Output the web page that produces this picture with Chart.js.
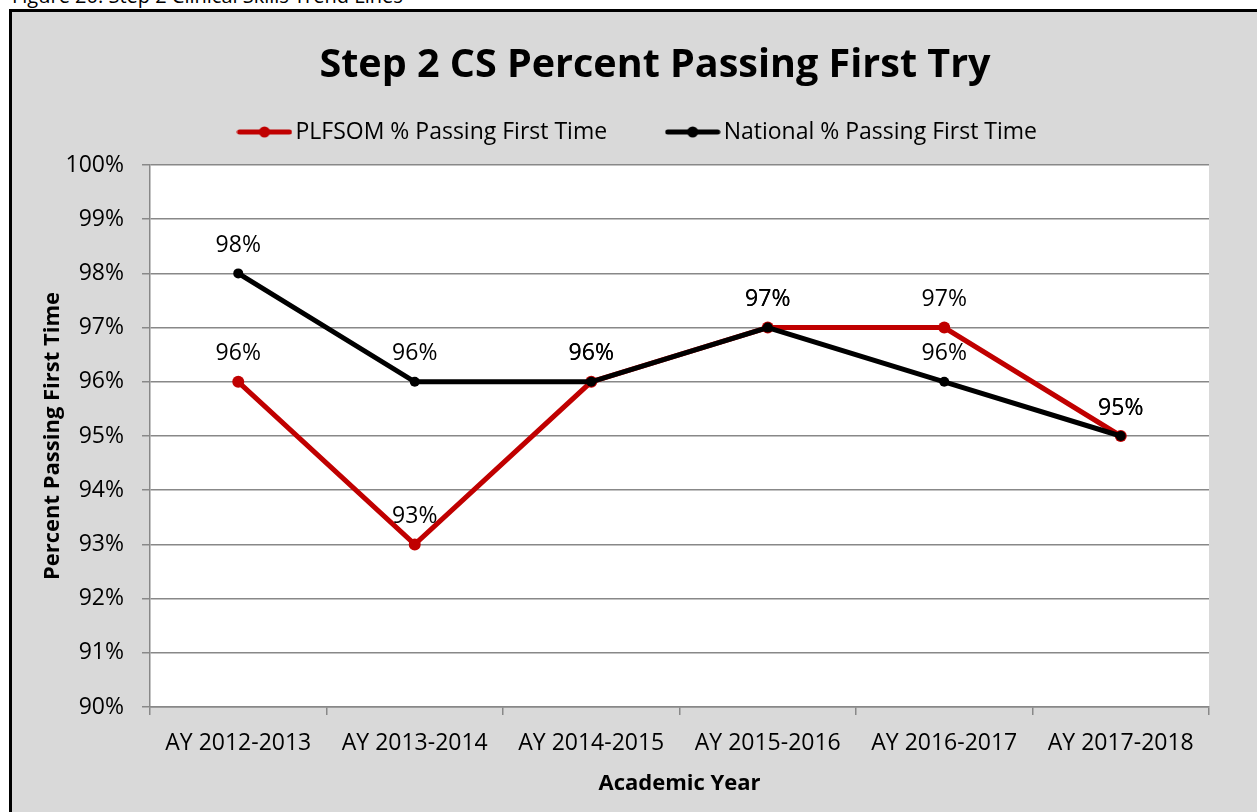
<!DOCTYPE html>
<html>
<head>
<meta charset="utf-8">
<script src="https://cdn.jsdelivr.net/npm/chart.js@4/dist/chart.umd.min.js"></script>
<style>
  html, body { margin: 0; padding: 0; overflow: hidden; background: #fff; width: 1257px; height: 812px; }
  #caption { position: absolute; left: 12px; top: -15px; font: 20px "Open Sans", sans-serif; line-height: 22px; color: #000; white-space: nowrap; }
  #frame { position: absolute; left: 9px; top: 9px; width: 1300px; height: 820px; border-left: 3px solid #000; border-top: 3px solid #000; background: #d9d9d9; }
  #myChart { position: absolute; left: 0; top: 0; }
</style>
</head>
<body>
<div id="caption">Figure 20: Step 2 Clinical Skills Trend Lines</div>
<div id="frame"><canvas id="myChart" width="1286" height="800"></canvas></div>
<script>
// data
const academicYears = ['AY 2012-2013', 'AY 2013-2014', 'AY 2014-2015', 'AY 2015-2016', 'AY 2016-2017', 'AY 2017-2018'];
const plfsomPassing = [96, 93, 96, 97, 97, 95];
const nationalPassing = [98, 96, 96, 97, 96, 95];
const yTicks = [90, 91, 92, 93, 94, 95, 96, 97, 98, 99, 100];

document.addEventListener("DOMContentLoaded", function() {
    const chart = document.getElementById('myChart');

    Chart.defaults.font.family = '"Open Sans", sans-serif';
    Chart.defaults.color = '#000';

    // little line + dot icon for the legend, like Excel
    function legendIcon(color) {
        const c = document.createElement('canvas');
        c.width = 56;
        c.height = 14;
        const g = c.getContext('2d');
        g.strokeStyle = color;
        g.fillStyle = color;
        g.lineWidth = 5;
        g.lineCap = 'round';
        g.beginPath();
        g.moveTo(3, 7);
        g.lineTo(53, 7);
        g.stroke();
        g.beginPath();
        g.arc(28, 7, 5.5, 0, Math.PI * 2);
        g.fill();
        return c;
    }
    const icons = [legendIcon('#c00000'), legendIcon('#000000')];

    // white plot area
    const plotBackground = {
        id: 'plotBackground',
        beforeDraw(c) {
            const a = c.chartArea;
            c.ctx.save();
            c.ctx.fillStyle = '#ffffff';
            c.ctx.fillRect(a.left, a.top, a.right - a.left, a.bottom - a.top);
            c.ctx.restore();
        }
    };

    // value labels above each point
    const valueLabels = {
        id: 'valueLabels',
        afterDatasetsDraw(c) {
            const ctx = c.ctx;
            ctx.save();
            ctx.font = '23px "Open Sans", sans-serif';
            ctx.fillStyle = '#000';
            ctx.textAlign = 'center';
            ctx.textBaseline = 'middle';
            c.data.datasets.forEach(function(ds, i) {
                c.getDatasetMeta(i).data.forEach(function(pt, j) {
                    ctx.fillText(ds.data[j] + '%', pt.x, pt.y - 28);
                });
            });
            ctx.restore();
        }
    };

    // legend sits a bit left of the title centre in the original
    const nudgeLegend = {
        id: 'nudgeLegend',
        afterLayout(c) {
            c.legend.left -= 14;
            c.legend.right -= 14;
        }
    };

    const config = {
        type: 'line',
        data: {
            labels: academicYears,
            datasets: [{
                    label: 'PLFSOM % Passing First Time',
                    data: plfsomPassing,
                    borderColor: '#c00000',
                    backgroundColor: '#c00000',
                    borderWidth: 5,
                    pointRadius: 6,
                    pointBorderWidth: 0,
                    tension: 0,
                    order: 1
                },
                {
                    label: 'National % Passing First Time',
                    data: nationalPassing,
                    borderColor: '#000000',
                    backgroundColor: '#000000',
                    borderWidth: 5,
                    pointRadius: 5,
                    pointBorderWidth: 0,
                    tension: 0,
                    order: 0
                }
            ]
        },
        options: {
            responsive: false,
            animation: false,
            layout: { padding: 0 },
            scales: {
                x: {
                    offset: true,
                    grid: { offset: true, drawOnChartArea: false, color: '#888888', lineWidth: 1.5, tickLength: 8 },
                    border: { color: '#888888', width: 1.5 },
                    ticks: { font: { size: 23 }, padding: 15, maxRotation: 0 },
                    title: { display: true, text: 'Academic Year', font: { size: 22, weight: 'bold' }, padding: { top: 0, bottom: 15 } },
                    afterFit(s) { s.height = 105; }
                },
                y: {
                    min: 90,
                    max: 100,
                    afterBuildTicks(s) { s.ticks = yTicks.map(v => ({ value: v })); },
                    grid: { color: '#888888', lineWidth: 1.5, tickLength: 8 },
                    border: { color: '#888888', width: 1.5 },
                    ticks: { font: { size: 23 }, padding: 18, callback: v => v + '%' },
                    title: { display: true, text: 'Percent Passing First Time', font: { size: 22, weight: 'bold' }, padding: { top: 28, bottom: 0 } },
                    afterFit(s) { s.width = 138; }
                },
                // empty axis that only keeps space on the right
                spacer: {
                    position: 'right',
                    display: true,
                    grid: { display: false },
                    border: { display: false },
                    ticks: { display: false },
                    afterFit(s) { s.width = 89; }
                }
            },
            plugins: {
                title: {
                    display: true,
                    text: 'Step 2 CS Percent Passing First Try',
                    font: { size: 39.5, weight: 'bold' },
                    color: '#000',
                    padding: { top: 30, bottom: -34.9 }
                },
                subtitle: {
                    display: true,
                    text: '',
                    position: 'top',
                    weight: 500,
                    font: { size: 1 },
                    padding: { top: 10.3, bottom: 0 }
                },
                legend: {
                    position: 'top',
                    labels: {
                        usePointStyle: true,
                        pointStyleWidth: 39,
                        padding: 66,
                        font: { size: 23 },
                        color: '#000',
                        sort: (a, b) => a.datasetIndex - b.datasetIndex,
                        generateLabels(c) {
                            const items = Chart.defaults.plugins.legend.labels.generateLabels(c);
                            items.forEach(function(it) { it.pointStyle = icons[it.datasetIndex]; });
                            return items;
                        }
                    }
                },
                tooltip: { enabled: false }
            }
        },
        plugins: [plotBackground, valueLabels, nudgeLegend]
    };

    new Chart(chart, config);
});
</script>
</body>
</html>
